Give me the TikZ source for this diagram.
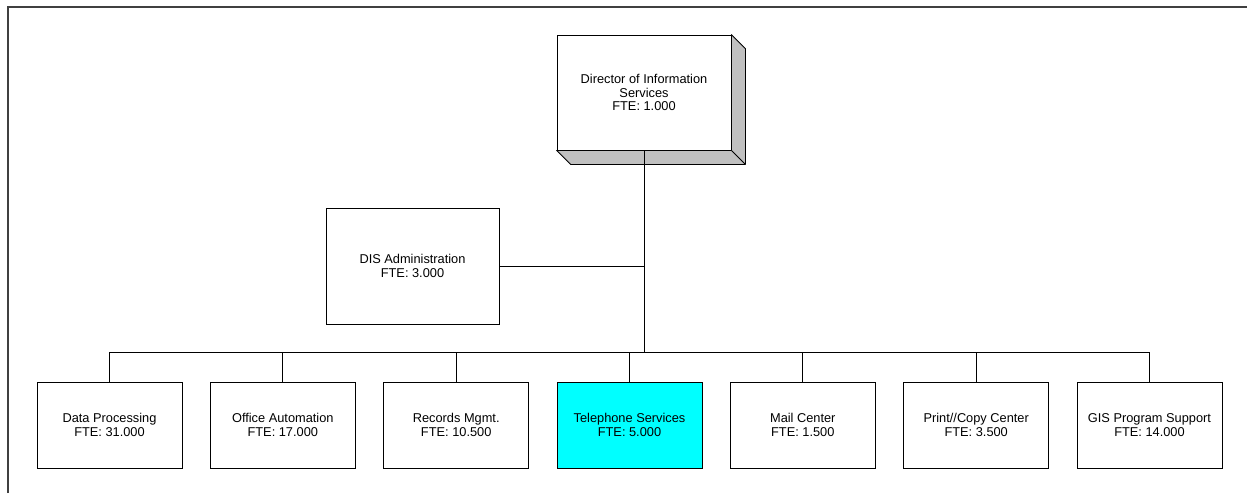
\documentclass[tikz,border=0pt]{standalone}
\usepackage{fontspec}
\setmainfont{Liberation Sans}
\usetikzlibrary{calc}
\definecolor{telcyan}{RGB}{0,255,255}
\definecolor{sidegray}{RGB}{192,192,192}
\begin{document}
\begin{tikzpicture}[x=1pt,y=-1pt,
  orgbox/.style={draw=black,line width=0.8pt,fill=white,align=center,inner sep=0pt,
    font=\fontsize{12.8}{13.6}\selectfont},
  bottombox/.style={orgbox,minimum width=145pt,minimum height=86pt},
  conn/.style={draw=black,line width=0.8pt},
  frame/.style={draw=black!75,line width=1.6pt}]
\useasboundingbox (0,0) rectangle (1247,493);
\coordinate (ftl) at (8,7);
\coordinate (ftr) at (1247,7);
\coordinate (fbl) at (8,493);
\draw[frame] (fbl) -- (ftl) -- (ftr);
% director with 3D extrusion
\node[orgbox,minimum width=174pt,minimum height=115pt] (dir) at (644,92.5)
  {Director of Information\\Services\\FTE: 1.000};
\fill[sidegray,draw=black,line width=0.8pt,line join=round]
  (dir.north east) -- ($(dir.north east)+(14,14)$) -- ($(dir.south east)+(14,14)$)
  -- ($(dir.south west)+(14,14)$) -- (dir.south west) -- (dir.south east) -- cycle;
\draw[conn] (dir.south east) -- ($(dir.south east)+(14,14)$);
\node[orgbox,minimum width=173pt,minimum height=116pt] (adm) at (412.5,266)
  {DIS Administration\\FTE: 3.000};
% bottom row
\node[bottombox] (b1) at (109.5,425) {Data Processing\\FTE: 31.000};
\node[bottombox] (b2) at (282.8,425) {Office Automation\\FTE: 17.000};
\node[bottombox] (b3) at (456.2,425) {Records Mgmt.\\FTE: 10.500};
\node[bottombox,fill=telcyan] (b4) at (629.5,425) {Telephone Services\\FTE: 5.000};
\node[bottombox] (b5) at (802.8,425) {Mail Center\\FTE: 1.500};
\node[bottombox] (b6) at (976.2,425) {Print//Copy Center\\FTE: 3.500};
\node[bottombox] (b7) at (1149.5,425) {GIS Program Support\\FTE: 14.000};
% connectors
\coordinate (bus) at (644,352.5);
\coordinate (admj) at (644,266);
\draw[conn] (dir.south) -- (bus);
\draw[conn] (adm.east) -- (admj);
\draw[conn] (b1.north) -- (b1.north |- bus) -- (b7.north |- bus) -- (b7.north);
\foreach \b in {b2,b3,b4,b5,b6}{
  \draw[conn] (\b.north) -- (\b.north |- bus);
}
\end{tikzpicture}
\end{document}
